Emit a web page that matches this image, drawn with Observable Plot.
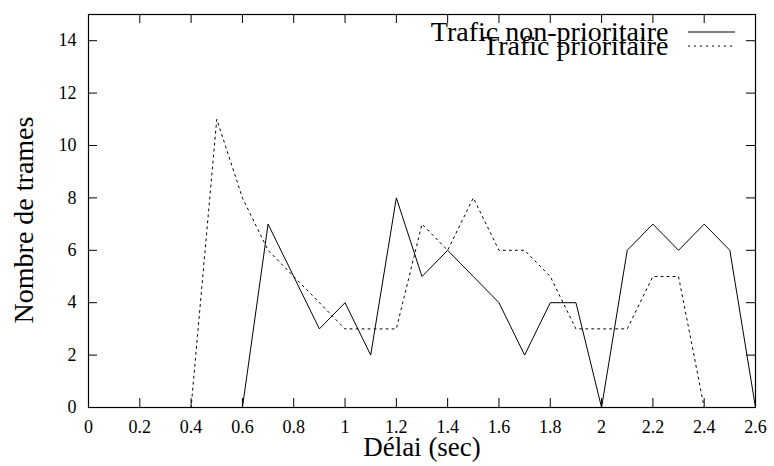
<!DOCTYPE html>
<html>
<head>
<meta charset="utf-8">
<script src="https://cdn.jsdelivr.net/npm/d3@7"></script>
<script src="https://cdn.jsdelivr.net/npm/@observablehq/plot@0.6"></script>
</head>
<body style="margin:0;background:#fff">
<div id="chart"></div>
<script>
const delais = [0,0.1,0.2,0.3,0.4,0.5,0.6,0.7,0.8,0.9,1.0,1.1,1.2,1.3,1.4,1.5,1.6,1.7,1.8,1.9,2.0,2.1,2.2,2.3,2.4,2.5,2.6];
const nonPrioritaire = [0,0,0,0,0,0,0,7,5,3,4,2,8,5,6,5,4,2,4,4,0,6,7,6,7,6,0];
const prioritaire    = [0,0,0,0,0,11,8,6,5,4,3,3,3,7,6,8,6,6,5,3,3,3,5,5,0,0,0];
const xTicks = [0,0.2,0.4,0.6,0.8,1,1.2,1.4,1.6,1.8,2,2.2,2.4,2.6];
const xTickLabels = ["0","0.2","0.4","0.6","0.8","1","1.2","1.4","1.6","1.8","2","2.2","2.4","2.6"];
const yTicks = [0,2,4,6,8,10,12,14];
const seriesNames = ["Trafic non-prioritaire","Trafic prioritaire"];
const xLabel = "Délai (sec)";
const yLabel = "Nombre de trames";

const W = 774, H = 466;
const mL = 88, mR = 19, mT = 14, mB = 59;
const X0 = 0, X1 = 2.6, Y0 = 0, Y1 = 15;
const tickPx = 9;
const tickDy = tickPx / (H - mT - mB) * (Y1 - Y0);
const tickDx = tickPx / (W - mL - mR) * (X1 - X0);

const dataNP = delais.map((d, i) => ({x: d, y: nonPrioritaire[i]}));
const dataP = delais.map((d, i) => ({x: d, y: prioritaire[i]}));
const font = "Liberation Serif";

const chart = Plot.plot({
  width: W, height: H,
  marginLeft: mL, marginRight: mR, marginTop: mT, marginBottom: mB,
  style: {fontFamily: font, fontSize: "18px", background: "#fff", color: "#000"},
  x: {domain: [X0, X1]},
  y: {domain: [Y0, Y1]},
  marks: [
    Plot.axisX({ticks: xTicks, tickFormat: d => xTickLabels[xTicks.indexOf(d)], tickSize: 0, tickPadding: 13, fontSize: 18, label: null}),
    Plot.axisY({ticks: yTicks, tickSize: 0, tickPadding: 12, fontSize: 18, label: null}),
    Plot.ruleX(xTicks, {x: d => d, y1: Y0, y2: Y0 + tickDy, stroke: "#000", strokeWidth: 1}),
    Plot.ruleX(xTicks, {x: d => d, y1: Y1 - tickDy, y2: Y1, stroke: "#000", strokeWidth: 1}),
    Plot.ruleY(yTicks, {y: d => d, x1: X0, x2: X0 + tickDx, stroke: "#000", strokeWidth: 1}),
    Plot.ruleY(yTicks, {y: d => d, x1: X1 - tickDx, x2: X1, stroke: "#000", strokeWidth: 1}),
    Plot.line(dataNP, {x: "x", y: "y", stroke: "#000", strokeWidth: 1}),
    Plot.line(dataP, {x: "x", y: "y", stroke: "#000", strokeWidth: 1, strokeDasharray: "2,4"}),
    Plot.frame({stroke: "#000", strokeWidth: 1.2}),
    Plot.text([xLabel], {frameAnchor: "bottom", dy: 40, lineAnchor: "middle", textAnchor: "middle", fontSize: 27, fill: "#000"}),
    Plot.text([yLabel], {frameAnchor: "left", dx: -64, dy: 9, rotate: -90, textAnchor: "middle", lineAnchor: "middle", fontSize: 28, fill: "#000"}),
    Plot.text([seriesNames[0]], {frameAnchor: "top-right", dx: -87, dy: 18, textAnchor: "end", lineAnchor: "middle", fontSize: 28, fill: "#000"}),
    Plot.text([seriesNames[1]], {frameAnchor: "top-right", dx: -87, dy: 32, textAnchor: "end", lineAnchor: "middle", fontSize: 28, fill: "#000"})
  ]
});
document.getElementById("chart").appendChild(chart);

const svg = d3.select(chart);
svg.selectAll("text").attr("font-family", font).style("font-family", font);
svg.selectAll('g[aria-label="x-axis tick label"], g[aria-label="y-axis tick label"]')
  .attr("font-size", 18).style("font-size", "18px");
// legend line samples
const samples = [{y: 32, dash: null}, {y: 46, dash: "2,4"}];
samples.forEach(s => {
  const l = svg.append("line").attr("x1", 688).attr("x2", 735)
    .attr("y1", s.y).attr("y2", s.y).attr("stroke", "#000").attr("stroke-width", 1);
  if (s.dash) l.attr("stroke-dasharray", s.dash);
});
</script>
</body>
</html>
